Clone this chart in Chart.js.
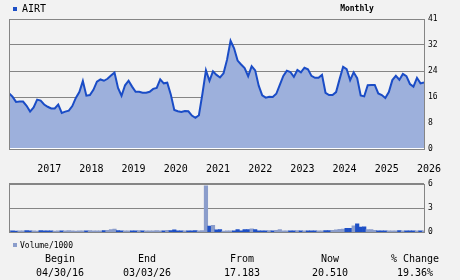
<!DOCTYPE html>
<html>
<head>
<meta charset="utf-8">
<script src="https://cdn.jsdelivr.net/npm/chart.js@4.4.1/dist/chart.umd.min.js"></script>
<style>
  html, body { margin: 0; padding: 0; background: #f2f2f2; }
  #wrap { position: relative; width: 460px; height: 280px; overflow: hidden;
          font-family: "DejaVu Sans Mono", monospace; color: #000; }
  canvas { position: absolute; left: 0; }
  .t { position: absolute; white-space: nowrap; }
  .c { transform: translateX(-50%); }
  .box { position: absolute; width: 4px; height: 4px; }
</style>
</head>
<body>
<div id="wrap">
  <canvas id="price" width="460" height="182" style="top:0"></canvas>
  <canvas id="vol" width="460" height="66" style="top:175px"></canvas>

  <div class="box" style="left:13px;top:7px;background:#1d4fc6"></div>
  <div class="t" id="sym" style="left:22px;top:3px;font-size:10px;line-height:12px"></div>
  <div class="t c" id="period" style="left:357px;top:4px;font-size:8px;line-height:10px;font-weight:bold"></div>

  <div class="box" style="left:13px;top:243px;background:#8b9dcb"></div>
  <div class="t" id="volname" style="left:20px;top:241px;font-size:8px;line-height:10px"></div>

  <div id="foot"></div>
</div>

<script>
// ---- data (monthly closes, 04/2016 .. 03/2026) ----
const SYMBOL = 'AIRT';
const PERIOD = 'Monthly';
const VOLUME_NAME = 'Volume/1000';

const PRICE = [
  17.2, 16.1, 14.5, 14.6, 14.6, 13.3, 11.5, 12.8, 15.2, 14.9,
  13.7, 13.0, 12.5, 12.5, 13.7, 11.1, 11.5, 11.8, 13.2, 15.7,
  17.5, 20.9, 16.4, 16.6, 18.2, 20.7, 21.4, 21.0, 21.6, 22.6,
  23.5, 18.8, 16.4, 19.6, 21.0, 19.2, 17.6, 17.6, 17.3, 17.3,
  17.6, 18.5, 18.8, 21.4, 20.2, 20.4, 16.8, 12.0, 11.6, 11.4,
  11.7, 11.6, 10.3, 9.6, 10.4, 17.0, 24.2, 21.0, 23.9, 22.8,
  22.0, 23.3, 27.5, 33.3, 31.0, 27.2, 26.0, 24.9, 22.4, 25.5,
  24.2, 19.5, 16.5, 15.8, 16.1, 16.0, 17.0, 19.7, 22.5, 24.1,
  23.7, 22.2, 24.3, 23.6, 25.0, 24.5, 22.5, 21.9, 21.9, 22.8,
  17.3, 16.6, 16.6, 17.5, 21.5, 25.3, 24.6, 21.2, 23.6, 21.8,
  16.5, 16.2, 19.6, 19.7, 19.7, 17.1, 16.6, 15.7, 17.5, 21.2,
  22.5, 21.3, 23.1, 22.4, 20.0, 19.2, 21.9, 20.2, 20.5
];

const VOLUME = [
  0.18, 0.16, 0.15, 0.18, 0.17, 0.20, 0.18, 0.16, 0.15, 0.19,
  0.18, 0.17, 0.18, 0.15, 0.17, 0.18, 0.17, 0.19, 0.17, 0.15,
  0.18, 0.17, 0.18, 0.19, 0.17, 0.18, 0.17, 0.20, 0.22, 0.32,
  0.38, 0.20, 0.17, 0.18, 0.17, 0.18, 0.17, 0.19, 0.17, 0.18,
  0.17, 0.18, 0.19, 0.17, 0.18, 0.24, 0.20, 0.28, 0.18, 0.17,
  0.18, 0.17, 0.18, 0.19, 0.17, 0.20, 5.75, 0.75, 0.85, 0.28,
  0.32, 0.15, 0.17, 0.18, 0.17, 0.32, 0.17, 0.32, 0.32, 0.42,
  0.32, 0.17, 0.18, 0.17, 0.20, 0.17, 0.24, 0.32, 0.18, 0.17,
  0.18, 0.17, 0.19, 0.17, 0.18, 0.17, 0.18, 0.17, 0.18, 0.17,
  0.20, 0.19, 0.24, 0.28, 0.36, 0.38, 0.48, 0.48, 0.78, 1.05,
  0.62, 0.66, 0.32, 0.32, 0.24, 0.18, 0.17, 0.18, 0.17, 0.18,
  0.17, 0.19, 0.17, 0.18, 0.17, 0.18, 0.17, 0.18, 0.17
];

const YEAR_LABELS = ['2017', '2018', '2019', '2020', '2021', '2022', '2023', '2024', '2025', '2026'];
const FIRST_JAN = 8;   // month index of Jan 2017
const PRICE_TICKS = [0, 8, 16, 24, 32, 40];
const PRICE_TICK_LABELS = ['0', '8', '16', '24', '32', '41'];
const VOLUME_TICKS = [0, 3, 6];

const FOOT_HEADS = ['Begin', 'End', 'From', 'Now', '% Change'];
const FOOT_VALUES = ['04/30/16', '03/03/26', '17.183', '20.510', '19.36%'];
const FOOT_X = [60, 147, 242, 330, 415];

// ---- styles ----
const LINE_BLUE = '#1a4cc6';
const FILL_BLUE = '#9db0dc';
const BAR_DARK = '#1d4fc6';
const BAR_LIGHT = '#8b9dcb';
const GRID = '#858585';
const FONT = 'DejaVu Sans Mono';

function $(id) { return document.getElementById(id); }

$('sym').textContent = SYMBOL;
$('period').textContent = PERIOD;
$('volname').textContent = VOLUME_NAME;
const foot = $('foot');
FOOT_HEADS.forEach((h, k) => {
  const a = document.createElement('div');
  a.className = 't c';
  a.style.cssText = `left:${FOOT_X[k]}px;top:253px;font-size:10px;line-height:12px`;
  a.textContent = h;
  const b = document.createElement('div');
  b.className = 't c';
  b.style.cssText = `left:${FOOT_X[k]}px;top:267px;font-size:10px;line-height:12px`;
  b.textContent = FOOT_VALUES[k];
  foot.appendChild(a); foot.appendChild(b);
});

// frame round the plot area, drawn over the data
const frame = {
  id: 'frame',
  afterDatasetsDraw(chart, args, opts) {
    const { ctx, chartArea: a } = chart;
    ctx.save();
    ctx.lineWidth = 1;
    if (opts.whiteBase) {
      ctx.strokeStyle = '#ffffff';
      ctx.beginPath();
      ctx.moveTo(a.left, a.bottom - 0.5);
      ctx.lineTo(a.right, a.bottom - 0.5);
      ctx.stroke();
    }
    ctx.strokeStyle = GRID;
    ctx.strokeRect(Math.round(a.left) + 0.5, Math.round(a.top) + 0.5,
                   Math.round(a.right - a.left), Math.round(a.bottom - a.top));
    ctx.restore();
  }
};

const months = PRICE.map((_, i) => i);

new Chart($('price'), {
  type: 'line',
  data: {
    datasets: [{
      label: SYMBOL,
      data: PRICE.map((v, i) => ({ x: months[i], y: v })),
      borderColor: LINE_BLUE,
      backgroundColor: FILL_BLUE,
      borderWidth: 2,
      fill: 'origin',
      pointRadius: 0,
      tension: 0,
    }],
  },
  options: {
    responsive: false, animation: false, events: [],
    layout: { padding: { left: 9, top: 19, right: 0, bottom: 0 }, autoPadding: false },
    plugins: { legend: { display: false }, tooltip: { enabled: false }, frame: { whiteBase: true } },
    scales: {
      x: {
        type: 'linear', position: 'bottom', min: 0, max: PRICE.length - 1,
        grid: { display: false, drawTicks: false }, border: { display: false },
        afterBuildTicks: ax => { ax.ticks = YEAR_LABELS.map((_, k) => ({ value: FIRST_JAN + 12 * k })); },
        afterFit: ax => { ax.height = 33; },
        ticks: {
          autoSkip: false, maxRotation: 0, align: 'start', padding: 14,
          color: '#000', font: { family: FONT, size: 10 },
          callback: (v, idx) => YEAR_LABELS[idx],
        },
      },
      y: {
        position: 'right', min: 0, max: 40,
        grid: { color: GRID, lineWidth: 1, drawTicks: false }, border: { display: false },
        afterBuildTicks: ax => { ax.ticks = PRICE_TICKS.map(v => ({ value: v })); },
        afterFit: ax => { ax.width = 36; },
        ticks: {
          padding: 4, color: '#000', font: { family: FONT, size: 8 },
          callback: (v, idx) => PRICE_TICK_LABELS[idx],
        },
      },
    },
  },
  plugins: [frame],
});

new Chart($('vol'), {
  type: 'bar',
  data: {
    datasets: [{
      data: VOLUME.map((v, i) => ({ x: months[i], y: v })),
      backgroundColor: VOLUME.map((_, i) => (i === 0 || PRICE[i] >= PRICE[i - 1]) ? BAR_LIGHT : BAR_DARK),
      barPercentage: 1, categoryPercentage: 1, borderWidth: 0,
    }],
  },
  options: {
    responsive: false, animation: false, events: [],
    layout: { padding: { left: 9, top: 4, right: 0, bottom: 2 }, autoPadding: false },
    plugins: { legend: { display: false }, tooltip: { enabled: false }, frame: {} },
    scales: {
      x: { type: 'linear', display: false, min: 0, max: PRICE.length - 1, offset: false },
      y: {
        position: 'right', min: 0, max: 6,
        grid: { color: GRID, lineWidth: 1, drawTicks: false }, border: { display: false },
        afterBuildTicks: ax => { ax.ticks = VOLUME_TICKS.map(v => ({ value: v })); },
        afterFit: ax => { ax.width = 36; },
        ticks: { padding: 4, color: '#000', font: { family: FONT, size: 8 } },
      },
    },
  },
  plugins: [frame],
});
</script>
</body>
</html>
